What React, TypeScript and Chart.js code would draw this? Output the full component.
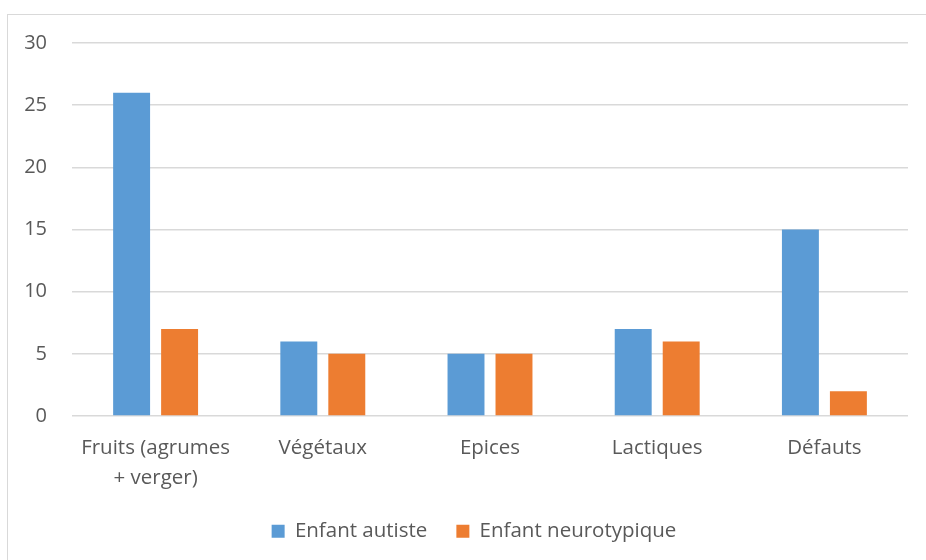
import React, { useEffect, useRef } from "react";
import { Chart, registerables } from "chart.js";

Chart.register(...registerables);

const categories: (string | string[])[] = [
  ["Fruits (agrumes", "+ verger)"],
  "Végétaux",
  "Epices",
  "Lactiques",
  "Défauts",
];
const autiste = [26, 6, 5, 7, 15];
const neurotypique = [7, 5, 5, 6, 2];
const seriesNames = ["Enfant autiste", "Enfant neurotypique"];
const yTicks = [0, 5, 10, 15, 20, 25, 30];

const FONT = "'Open Sans', sans-serif";
const TEXT = "#595959";

const shiftLegend = {
  id: "shiftLegend",
  afterLayout(chart: any) {
    if (chart.legend) {
      chart.legend.left += 20;
      chart.legend.right += 20;
    }
  },
};

export default function App() {
  const ref = useRef<HTMLCanvasElement | null>(null);
  useEffect(() => {
    if (!ref.current) return;
    const chart = new Chart(ref.current, {
      type: "bar",
      data: {
        labels: categories,
        datasets: [
          {
            label: seriesNames[0],
            data: autiste,
            backgroundColor: "#5B9BD5",
            categoryPercentage: 0.574,
            barPercentage: 0.77,
          },
          {
            label: seriesNames[1],
            data: neurotypique,
            backgroundColor: "#ED7D31",
            categoryPercentage: 0.574,
            barPercentage: 0.77,
          },
        ],
      },
      plugins: [shiftLegend],
      options: {
        animation: false,
        responsive: false,
        layout: { padding: { left: 0, right: 18, top: 43, bottom: 8.5 } },
        plugins: {
          tooltip: { enabled: false },
          legend: {
            position: "bottom",
            labels: {
              font: { family: FONT, size: 20.5 },
              color: TEXT,
              boxWidth: 13,
              boxHeight: 13,
              padding: 29,
            },
          },
        },
        scales: {
          x: {
            grid: { display: false },
            border: { display: false },
            ticks: {
              font: { family: FONT, size: 20.5, lineHeight: 30 / 20.5 },
              color: TEXT,
              padding: 9,
              maxRotation: 0,
              autoSkip: false,
            },
            afterFit: (s: any) => {
              s.height = 76;
            },
          },
          y: {
            min: 0,
            max: 30,
            afterBuildTicks: (s: any) => {
              s.ticks = yTicks.map((v) => ({ value: v }));
            },
            grid: { color: "#d9d9d9", lineWidth: 1.5, drawTicks: false },
            border: { display: false },
            ticks: {
              font: { family: FONT, size: 20 },
              color: TEXT,
              padding: 25,
            },
            afterFit: (s: any) => {
              s.width = 72;
            },
          },
        },
      },
    });
    return () => chart.destroy();
  }, []);
  return (
    <div style={{ position: "fixed", left: 0, top: 0, width: 926, height: 560, background: "#fff", overflow: "hidden" }}>
      <div
        style={{
          position: "absolute",
          left: 7,
          top: 14,
          width: 940,
          height: 600,
          border: "1px solid #d9d9d9",
        }}
      />
      <canvas ref={ref} width={926} height={560} style={{ position: "absolute", left: 0, top: 0 }} />
    </div>
  );
}
